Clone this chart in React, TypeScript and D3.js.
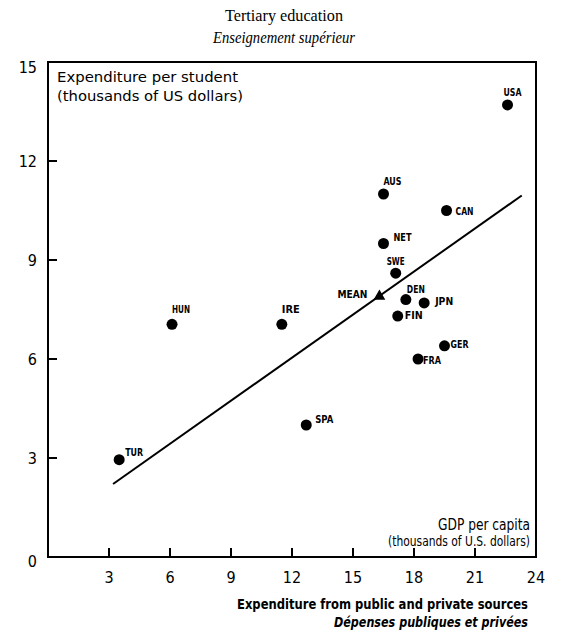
import React from "react";
import * as d3 from "d3";

const countries = ["USA", "AUS", "CAN", "NET", "SWE", "DEN", "JPN", "FIN", "GER", "FRA", "SPA", "IRE", "HUN", "TUR"];
const gdpPerCapita = [22.6, 16.5, 19.6, 16.5, 17.1, 17.6, 18.5, 17.2, 19.5, 18.2, 12.7, 11.5, 6.1, 3.5];
const expenditurePerStudent = [13.7, 11.0, 10.5, 9.5, 8.6, 7.8, 7.7, 7.3, 6.4, 6.0, 4.0, 7.05, 7.05, 2.95];
const meanPoint = { label: "MEAN", x: 16.3, y: 7.9 };
const trendX = [3.2, 23.3];
const trendIntercept = 0.82;
const trendSlope = 0.435;
const xTicks = [3, 6, 9, 12, 15, 18, 21, 24];
const yTicks = [0, 3, 6, 9, 12, 15];

// label layout (pixel offsets from the dot)
const labelOffsets: Record<string, [number, number, string]> = {
  USA: [-4, -9, "start"],
  AUS: [0, -9, "start"],
  CAN: [9, 4, "start"],
  NET: [10, -3, "start"],
  SWE: [-9, -8, "start"],
  DEN: [1, -7, "start"],
  JPN: [11, 2, "start"],
  FIN: [7, 3, "start"],
  GER: [6, 2, "start"],
  FRA: [5, 5, "start"],
  SPA: [9, -2, "start"],
  IRE: [0, -11, "start"],
  HUN: [0, -11, "start"],
  TUR: [6, -4, "start"],
};

const W = 564;
const H = 643;
const left = 48;
const right = 536;
const top = 62;
const bottom = 557;

const sans = "'DejaVu Sans Condensed', 'DejaVu Sans', sans-serif";
const serif = "'Liberation Serif', 'DejaVu Serif', serif";

export default function App() {
  const x = d3.scaleLinear().domain([0, 24]).range([left, right]);
  const y = d3.scaleLinear().domain([0, 15]).range([bottom, top]);
  const line = d3
    .line<number>()
    .x((d) => x(d))
    .y((d) => y(trendIntercept + trendSlope * d));
  const tri = d3.symbol().type(d3.symbolTriangle).size(60)();

  return (
    <svg width={W} height={H} style={{ position: "absolute", left: 0, top: 0, background: "#fff" }}>
      <rect x={0} y={0} width={W} height={H} fill="#fff" />
      <text x={284} y={21} textAnchor="middle" fontFamily={serif} fontSize={17} textLength={118} lengthAdjust="spacingAndGlyphs">
        Tertiary education
      </text>
      <text x={284} y={43} textAnchor="middle" fontFamily={serif} fontSize={17} fontStyle="italic" textLength={142} lengthAdjust="spacingAndGlyphs">
        Enseignement supérieur
      </text>

      {/* frame */}
      <rect x={left} y={top} width={right - left} height={bottom - top} fill="none" stroke="#000" strokeWidth={2} />

      {/* y ticks */}
      {yTicks.map((t) => (
        <g key={"y" + t}>
          {t > 0 && t < 15 && <line x1={left} x2={left + 9} y1={y(t)} y2={y(t)} stroke="#000" strokeWidth={2} />}
          <text x={37} y={y(t) + (t === 15 ? 11 : t === 0 ? 10 : 6)} textAnchor="end" fontFamily={sans} fontSize={16} fontWeight={300}>
            {t}
          </text>
        </g>
      ))}

      {/* x ticks */}
      {xTicks.map((t) => (
        <g key={"x" + t}>
          {t < 24 && <line x1={x(t)} x2={x(t)} y1={bottom} y2={bottom - 9} stroke="#000" strokeWidth={2} />}
          <text x={x(t)} y={583} textAnchor="middle" fontFamily={sans} fontSize={16} fontWeight={300}>
            {t}
          </text>
        </g>
      ))}

      {/* axis titles inside */}
      <text x={57} y={82} fontFamily={sans} fontSize={14} textLength={181} lengthAdjust="spacingAndGlyphs">
        Expenditure per student
      </text>
      <text x={57} y={101} fontFamily={sans} fontSize={14} textLength={186} lengthAdjust="spacingAndGlyphs">
        (thousands of US dollars)
      </text>
      <text x={530} y={530} textAnchor="end" fontFamily={sans} fontSize={16} textLength={92} lengthAdjust="spacingAndGlyphs">
        GDP per capita
      </text>
      <text x={530} y={546} textAnchor="end" fontFamily={sans} fontSize={14} textLength={142} lengthAdjust="spacingAndGlyphs">
        (thousands of U.S. dollars)
      </text>

      {/* bottom titles */}
      <text x={528} y={609} textAnchor="end" fontFamily={sans} fontSize={14} fontWeight="bold" textLength={291} lengthAdjust="spacingAndGlyphs">
        Expenditure from public and private sources
      </text>
      <text x={528} y={627} textAnchor="end" fontFamily={sans} fontSize={14} fontWeight="bold" fontStyle="italic" textLength={194} lengthAdjust="spacingAndGlyphs">
        Dépenses publiques et privées
      </text>

      {/* trend line */}
      <path d={line(trendX) || ""} fill="none" stroke="#000" strokeWidth={2} />

      {/* points */}
      {countries.map((c, i) => {
        const px = x(gdpPerCapita[i]);
        const py = y(expenditurePerStudent[i]);
        const [dx, dy, anchor] = labelOffsets[c];
        return (
          <g key={c}>
            <circle cx={px} cy={py} r={5.5} fill="#000" />
            <text x={px + dx} y={py + dy} textAnchor={anchor as any} fontFamily={sans} fontSize={10} fontWeight="bold" textLength={c.length * 6} lengthAdjust="spacingAndGlyphs">
              {c}
            </text>
          </g>
        );
      })}

      {/* mean */}
      <path d={tri || ""} transform={`translate(${x(meanPoint.x)},${y(meanPoint.y)})`} fill="#000" />
      <text x={x(meanPoint.x) - 12} y={y(meanPoint.y) + 2} textAnchor="end" fontFamily={sans} fontSize={10} fontWeight="bold" textLength={30} lengthAdjust="spacingAndGlyphs">
        {meanPoint.label}
      </text>
    </svg>
  );
}
